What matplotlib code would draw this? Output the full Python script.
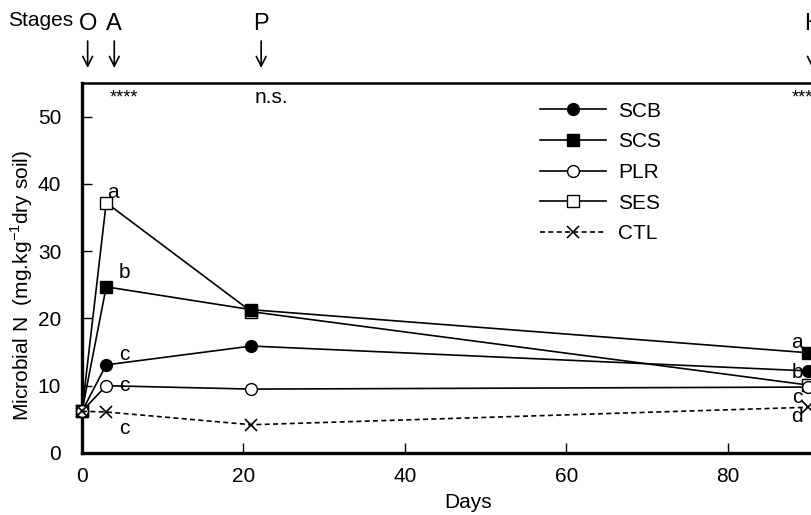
import matplotlib
matplotlib.use("Agg")
import matplotlib.pyplot as plt

plt.rcParams['font.family'] = ['Liberation Sans', 'DejaVu Sans']
plt.rcParams['mathtext.fontset'] = 'custom'
plt.rcParams['mathtext.rm'] = 'Liberation Sans'

days = [0, 3, 21, 90]
scb = [6.2, 13.1, 15.9, 12.2]
scs = [6.2, 24.7, 21.3, 14.9]
plr = [6.2, 10.0, 9.5, 9.8]
ses = [6.2, 37.2, 21.0, 10.1]
ctl = [6.2, 6.1, 4.2, 6.8]

letters_d3 = ["a", "b", "c", "c", "c"]
letters_d90 = ["a", "b", "c", "d"]
signif = ["****", "n.s.", "****"]
stage_names = ["O", "A", "P", "H"]

W, H = 811, 515
fig = plt.figure(figsize=(W / 100, H / 100), dpi=100)
# axes runs past the right edge of the figure, like the cropped original
ax = fig.add_axes([82 / W, (H - 453) / H, 100 * 8.07 / W, 370 / H])
ax.set_xlim(0, 100)
ax.set_ylim(0, 55)

mk = 8.5
ax.plot(days, scb, '-', color='black', lw=1.2, marker='o', ms=mk, mfc='black', label='SCB', clip_on=False, zorder=3)
ax.plot(days, scs, '-', color='black', lw=1.2, marker='s', ms=mk, mfc='black', label='SCS', clip_on=False, zorder=3)
ax.plot(days, plr, '-', color='black', lw=1.2, marker='o', ms=mk, mfc='white', label='PLR', clip_on=False, zorder=3)
ax.plot(days, ses, '-', color='black', lw=1.2, marker='s', ms=mk, mfc='white', label='SES', clip_on=False, zorder=2)
ax.plot(days, ctl, '--', color='black', lw=1.2, marker='x', ms=mk, mew=1.2, label='CTL', clip_on=False, zorder=3,
        dashes=(3, 2))

# letters next to day 3 points (SES, SCS, SCB, PLR, CTL)
d3_vals = [ses[1], scs[1], scb[1], plr[1], ctl[1]]
d3_off = [(0.8, 1.5), (2.2, 2.2), (2.2, 1.5), (2.2, 0.0), (2.2, -2.4)]
for t, v, (dx, dy) in zip(letters_d3, d3_vals, d3_off):
    ax.text(days[1] + dx, v + dy, t, fontsize=15, ha='center', va='center')

# letters left of the day 90 points (SCS, SCB, SES, CTL)
d90_vals = [scs[3], scb[3], ses[3], ctl[3]]
d90_off = [1.6, -0.3, -1.9, -1.4]
for t, v, dy in zip(letters_d90, d90_vals, d90_off):
    ax.text(days[3] - 1.4, v + dy, t, fontsize=15, ha='center', va='center')

for x, s in zip([3.4, 21.4, 87.9], signif):
    ax.text(x, 52.8, s, fontsize=13 if s.startswith('*') else 15, ha='left', va='center')

ax.set_xticks([0, 20, 40, 60, 80])
ax.set_yticks([0, 10, 20, 30, 40, 50])
ax.tick_params(direction='in', length=7, width=1, labelsize=15)
ax.tick_params(axis='x', pad=10)
ax.tick_params(axis='y', pad=15)
for side in ['left', 'bottom']:
    ax.spines[side].set_linewidth(2.4)
ax.spines['top'].set_linewidth(1.8)
ax.spines['right'].set_visible(False)

leg = ax.legend(loc='upper left', bbox_to_anchor=(0.544, 1.0), frameon=False, fontsize=15,
                handlelength=3.2, labelspacing=0.56, handletextpad=0.55)

fig.text(468 / W, 1 - 503 / H, "Days", fontsize=15, ha='center', va='center')
fig.text(22 / W, 1 - 285 / H, r"Microbial N  (mg.kg$^{-1}$dry soil)", fontsize=15,
         rotation=90, ha='center', va='center')

fig.text(8 / W, 1 - 20 / H, "Stages", fontsize=15, ha='left', va='center')
for x, s in zip([0.7, 4.0, 22.2, 90.5], stage_names):
    px = ax.transData.transform((x, 0))[0]
    fig.text(px / W, 1 - 24 / H, s, fontsize=17, ha='center', va='center')
    ax.annotate('', xy=(px, H - 68), xytext=(px, H - 41), xycoords='figure pixels',
                textcoords='figure pixels', annotation_clip=False,
                arrowprops=dict(arrowstyle='->,head_length=0.7,head_width=0.35', color='black', lw=1.2,
                                shrinkA=0, shrinkB=0))

fig.savefig("out.png", dpi=100)
